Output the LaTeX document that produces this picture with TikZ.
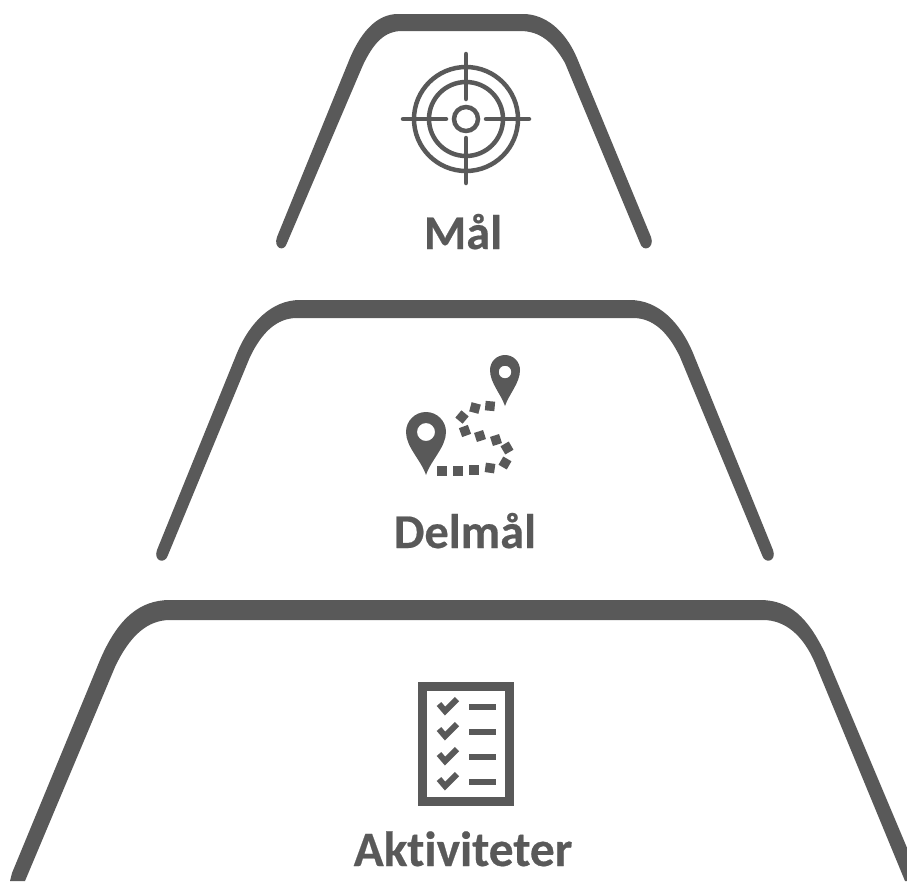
\documentclass[tikz,border=0pt]{standalone}
\usepackage{fontspec}
\setmainfont[Ligatures=NoCommon,BoldFeatures={FakeBold=0.4}]{Carlito}
\definecolor{ink}{HTML}{595959}
\tikzset{
  arch/.style={fill=ink,draw=none},
  thin icon/.style={draw=ink,line width=4.5pt,line cap=round},
  label text/.style={text=ink,font=\fontsize{48.5pt}{52pt}\selectfont\bfseries,inner sep=0pt,anchor=base},
  pin/.style={fill=ink,draw=none},
  dot/.style={fill=ink,draw=none,minimum size=9.5pt,inner sep=0pt,shape=rectangle},
}
\begin{document}
\begin{tikzpicture}[x=1pt,y=-1pt]
\useasboundingbox (0,0) rectangle (907,881);
\clip (0,0) rectangle (907,881);
% arches: filled outlines, thicker along the top than down the sides
\fill[arch] (277,237) -- (350,58) .. controls (362,30) and (378,14) .. (398,14) -- (523,14)
  .. controls (545,14) and (565,30) .. (577,58) -- (651,237)
  .. controls (655,248) and (643,253) .. (640,243)
  -- (565,63) .. controls (553,42) and (540,31) .. (520,31) -- (402,31)
  .. controls (385,31) and (374,42) .. (363,65) -- (287,243)
  .. controls (284,253) and (273,248) .. (277,237) -- cycle;
\fill[arch] (157,550) -- (237,353) .. controls (250,322) and (272,300) .. (300,300) -- (630,300)
  .. controls (658,300) and (680,322) .. (693,353) -- (773,550)
  .. controls (777,561) and (765,565) .. (762,555)
  -- (680,357) .. controls (668,332) and (653,318) .. (633,318) -- (297,318)
  .. controls (277,318) and (262,332) .. (250,357) -- (168,555)
  .. controls (165,565) and (153,561) .. (157,550) -- cycle;
\fill[arch] (12,873) -- (100,660) .. controls (118,618) and (140,600) .. (170,600) -- (760,600)
  .. controls (790,600) and (808,618) .. (825,653) -- (921,881)
  -- (905,881) -- (815,663) .. controls (803,635) and (785,620) .. (763,620) -- (170,620)
  .. controls (148,620) and (130,635) .. (115,667) -- (25,881) -- (10,881) -- cycle;
% target icon
\draw[thin icon] (466,119) circle (52);
\draw[thin icon] (466,119) circle (37);
\draw[thin icon] (466,119) circle (12);
\draw[thin icon] (466,54) -- (466,99);
\draw[thin icon] (466,138) -- (466,183);
\draw[thin icon] (403,119) -- (446,119);
\draw[thin icon] (486,119) -- (529,119);
% pins
\fill[pin,even odd rule] (426,475) .. controls (421,460) and (406,447) .. (406,432) arc[start angle=180,end angle=360,radius=20] .. controls (446,447) and (431,460) .. (426,475) -- cycle (426,432) circle (9);
\fill[pin,even odd rule] (505,406) .. controls (501,394) and (490,383) .. (490,370) arc[start angle=180,end angle=360,radius=15] .. controls (520,383) and (509,394) .. (505,406) -- cycle (505,372) circle (6.3);
% route dots
\foreach \n/\x/\y/\r in {a/442/471/0,b/458/471/0,c/474/470/0,d/490/468/-8,e/505/463/-30,f/507/448/30,g/496/440/18,h/480/436/18,i/465/431/20,j/462/417/-40,k/475/408/-15,l/490/406/-5}
  \node[dot,rotate=\r] (\n) at (\x,\y) {};
% checklist
\draw[draw=ink,line width=9pt,fill=white] (422.5,686) rectangle (509.5,801);
\foreach \y in {707,732,757,782}{
  \draw[ink,line width=6pt] (469,\y) -- (496,\y);
  \draw[ink,line width=6pt] (439,\y-3) -- (445,\y+4) -- (457,\y-8);
}
% labels
\node[label text] (mal) at (463,249) {Mål};
\node[label text] (delmal) at (465,548) {Delmål};
\node[label text,font=\fontsize{49.5pt}{52pt}\selectfont\bfseries] (akt) at (463,866) {Aktiviteter};
\end{tikzpicture}
\end{document}
